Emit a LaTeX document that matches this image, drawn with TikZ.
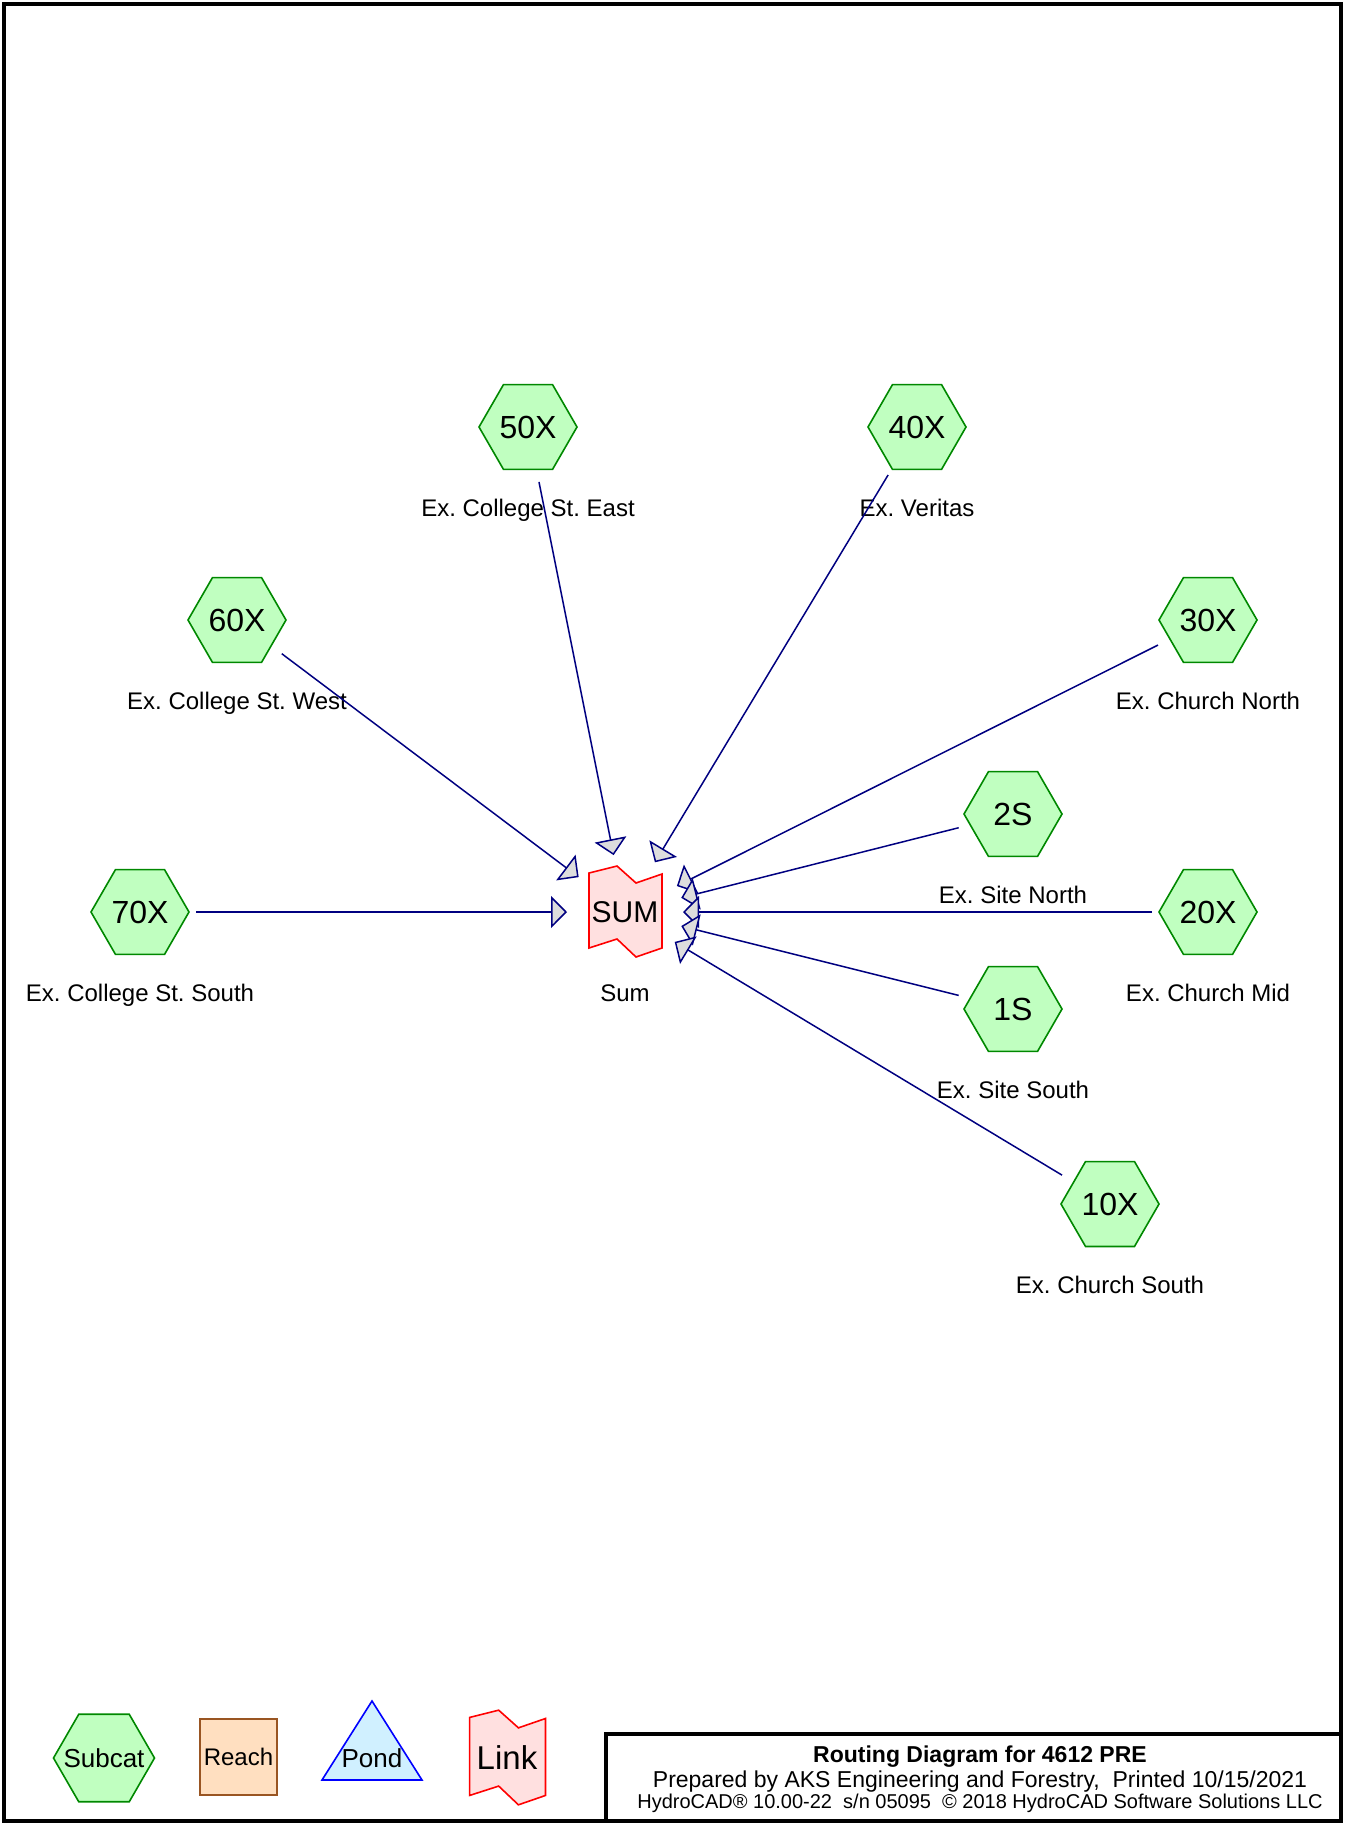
\documentclass[tikz,border=0pt]{standalone}
\usepackage{fontspec}
\setmainfont{Liberation Sans}
\usetikzlibrary{shapes.geometric,positioning,arrows.meta}
\definecolor{subfill}{HTML}{C0FFC0}
\definecolor{subline}{HTML}{008800}
\definecolor{lnkfill}{HTML}{FFE0E0}
\definecolor{lnkline}{HTML}{FF0000}
\definecolor{rchfill}{HTML}{FFDFC0}
\definecolor{rchline}{HTML}{995522}
\definecolor{pndfill}{HTML}{D0F0FF}
\definecolor{pndline}{HTML}{0000FF}
\definecolor{flowc}{HTML}{000080}
\definecolor{headc}{HTML}{DDDDDD}
\frenchspacing

\begin{document}
\begin{tikzpicture}[x=0.5pt,y=-0.5pt,
  hexa/.style={regular polygon,regular polygon sides=6,minimum size=49pt,inner sep=0pt,
    draw=subline,fill=subfill,line width=0.8pt,font=\fontsize{16}{18}\selectfont},
  capt/.style={inner sep=0pt,text height=9pt,text depth=2.5pt,font=\fontsize{12}{14}\selectfont},
  flow/.style={draw=flowc,line width=0.75pt,shorten <=28pt,shorten >=29pt,
    -{Triangle[length=8pt,width=16pt,fill=headc]}},
  linkflag/.pic={\filldraw[draw=lnkline,fill=lnkfill,line width=0.8pt]
    (-36,-39) -- (-8,-46) -- (11,-29) -- (37,-38) -- (37,36) -- (11,45) -- (-8,27) -- (-36,36) -- cycle;}]
\useasboundingbox (0,0) rectangle (1345,1825);
\draw[line width=2.2pt] (4.2,4.2) rectangle (1340.8,1820.8);

% subcatchments
\foreach \n/\x/\y/\t in {50X/528/427/Ex. College St. East, 40X/917/427/Ex. Veritas,
    60X/237/620/Ex. College St. West, 30X/1208/620/Ex. Church North, 2S/1013/814/Ex. Site North,
    70X/140/912/Ex. College St. South, 20X/1208/912/Ex. Church Mid, 1S/1013/1009/Ex. Site South,
    10X/1110/1204/Ex. Church South} {
  \node[hexa] (h\n) at (\x,\y) {\n};
  \node[capt,below=13.8pt of h\n] (c\n) {\t};
}

% link
\pic at (625,912) {linkflag};
\node[font=\fontsize{15}{17}\selectfont,minimum width=36pt,minimum height=37pt,inner sep=0pt] (sum) at (625,912) {SUM};
\node[capt,below=16.8pt of sum] (csum) {Sum};

\foreach \n in {50X,40X,60X,30X,2S,70X,20X,1S,10X} \draw[flow] (h\n.center) -- (sum.center);

% legend
\node[hexa,minimum size=50.5pt] (lsub) at (104,1758) {};
\node[font=\fontsize{13}{15}\selectfont] (lsubt) at (lsub.center) {Subcat};
\node[draw=rchline,fill=rchfill,line width=0.8pt,minimum width=38.5pt,minimum height=38pt,inner sep=0pt,
  font=\fontsize{12}{14}\selectfont] (lrch) at (238.5,1757) {Reach};
\filldraw[draw=pndline,fill=pndfill,line width=0.8pt] (372,1701) -- (422,1780) -- (322,1780) -- cycle;
\node[font=\fontsize{13}{15}\selectfont] (lpnd) at (372,1758) {Pond};
\pic[scale=1.04] at (507,1758) {linkflag};
\node[font=\fontsize{16.5}{18}\selectfont] (llnk) at (507,1758) {Link};

% title block
\draw[line width=2.2pt] (606,1734) rectangle (1340.8,1820.8);
\node[anchor=base,font=\bfseries\fontsize{11.5}{13}\selectfont] (ttl) at (980,1762) {Routing Diagram for 4612 PRE};
\node[anchor=base,font=\fontsize{11.5}{13}\selectfont] (prep) at (980,1787) {Prepared by AKS Engineering and Forestry,~~Printed 10/15/2021};
\node[anchor=base,font=\fontsize{10}{12}\selectfont] (vers) at (980,1808) {HydroCAD® 10.00-22~~s/n 05095~~© 2018 HydroCAD Software Solutions LLC};
\end{tikzpicture}
\end{document}
